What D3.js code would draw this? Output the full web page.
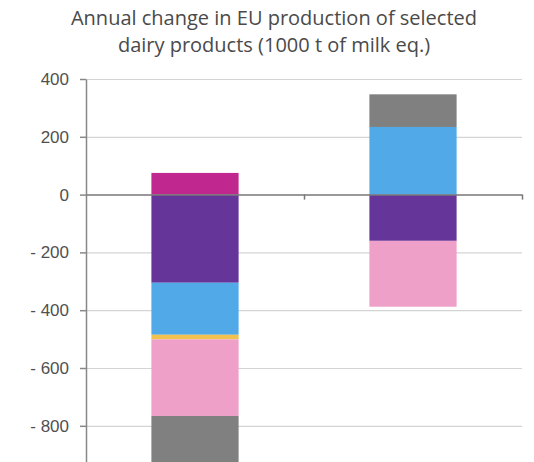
<!DOCTYPE html>
<html>
<head>
<meta charset="utf-8">
<script src="https://cdn.jsdelivr.net/npm/d3@7"></script>
<style>
    body { margin: 0; background: #fff; }
    svg { display: block; font-family: 'Open Sans', sans-serif; }
    .title { fill: #4a4a4a; font-size: 20px; font-weight: 400; }
    .yAxis text { fill: #505050; font-size: 17px; }
    .yAxis path, .yAxis line { stroke: #888; stroke-width: 1.5; }
    .grid line { stroke: #d4d4d4; stroke-width: 1.2; }
    .grid path { display: none; }
    .xAxis path, .xAxis line { stroke: #777; stroke-width: 1.5; }
</style>
</head>
<body>
<div id="chart"></div>
<script>
const categories = ['Year 1', 'Year 2'];
const seriesNames = ['s1', 's2', 's3', 's4', 's5', 's6'];
const seriesColors = ['#65359a', '#52a9e8', '#f2c14e', '#efa0c9', '#808080', '#c0288f'];
const s1 = [-305, -160];
const s2 = [-180, 234];
const s3 = [-16, 0];
const s4 = [-265, -228];
const s5 = [-200, 113];
const s6 = [75, 0];
const yTicks = [-800, -600, -400, -200, 0, 200, 400];

const table = categories.map((c, i) => ({
    category: c,
    s1: s1[i], s2: s2[i], s3: s3[i], s4: s4[i], s5: s5[i], s6: s6[i]
}));

const outerWidth = 534;
const outerHeight = 462;
const margin = { top: 79, left: 86, right: 12 };
const innerWidth = outerWidth - margin.left - margin.right;
const innerHeight = 404.6;

const xScale = d3.scaleBand()
    .domain(categories)
    .range([0, innerWidth])
    .paddingInner(0.6)
    .paddingOuter(0.3);

const yScale = d3.scaleLinear()
    .domain([-1000, 400])
    .range([innerHeight, 0]);

const stack = d3.stack()
    .keys(seriesNames)
    .offset(d3.stackOffsetDiverging);
const layers = stack(table);

const root = d3.select('#chart')
    .append('svg')
        .attr('width', outerWidth)
        .attr('height', outerHeight);

root.append('text')
    .classed('title', true)
    .attr('x', 274)
    .attr('y', 25)
    .attr('text-anchor', 'middle')
    .text('Annual change in EU production of selected');

root.append('text')
    .classed('title', true)
    .attr('x', 274)
    .attr('y', 52)
    .attr('text-anchor', 'middle')
    .text('dairy products (1000 t of milk eq.)');

const svg = root.append('g')
    .attr('transform', `translate(${margin.left},${margin.top})`);

svg.append('g')
    .classed('grid', true)
    .call(d3.axisLeft(yScale)
        .tickValues(yTicks.filter(d => d !== 0))
        .tickSize(-innerWidth)
        .tickFormat(''))
    .selectAll('text').remove();

svg.selectAll('.layer')
    .data(layers)
    .join('g')
        .classed('layer', true)
        .attr('fill', (d, i) => seriesColors[i])
    .selectAll('rect')
    .data(d => d)
    .join('rect')
        .attr('x', d => xScale(d.data.category))
        .attr('width', xScale.bandwidth())
        .attr('y', d => yScale(Math.max(d[0], d[1])))
        .attr('height', d => Math.abs(yScale(d[0]) - yScale(d[1])));

const formatTick = d => d < 0 ? `- ${Math.abs(d)}` : `${d}`;

svg.append('g')
    .classed('yAxis', true)
    .call(d3.axisLeft(yScale)
        .tickValues(yTicks)
        .tickSize(6)
        .tickSizeOuter(0)
        .tickPadding(11)
        .tickFormat(formatTick));

// zero line with ticks at the category boundaries
const boundaries = d3.range(categories.length + 1).map(i => i * innerWidth / categories.length);
const xBound = d3.scaleLinear().domain([0, innerWidth]).range([0, innerWidth]);

svg.append('g')
    .classed('xAxis', true)
    .attr('transform', `translate(0, ${yScale(0)})`)
    .call(d3.axisBottom(xBound)
        .tickValues(boundaries.slice(1))
        .tickSize(5)
        .tickSizeOuter(0)
        .tickFormat(''))
    .selectAll('text').remove();
</script>
</body>
</html>
